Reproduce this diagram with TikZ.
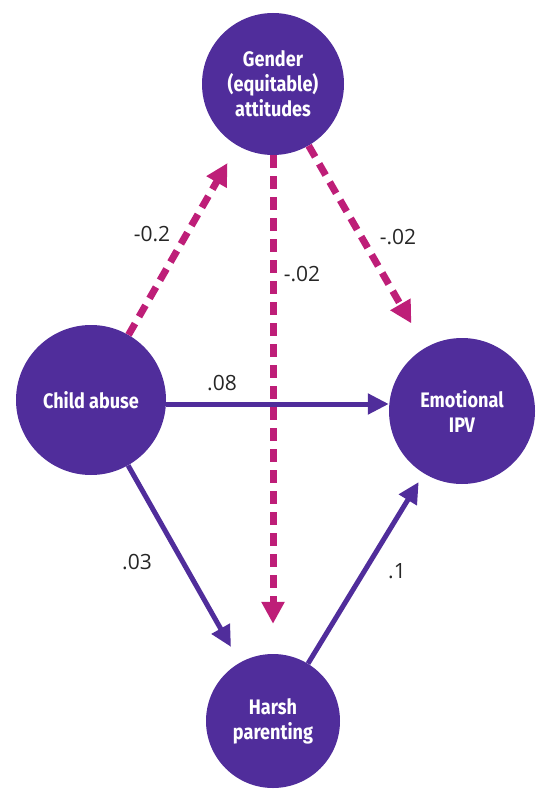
\documentclass[tikz,border=0pt]{standalone}
\usepackage{fontspec}
\setmainfont{Open Sans}
\newfontfamily\nodefont[FakeStretch=0.86]{Fira Sans}
\usetikzlibrary{arrows.meta}
\definecolor{nodepurple}{RGB}{80,45,155}
\definecolor{pathmagenta}{RGB}{190,30,120}
\tikzset{
  var/.style={circle, fill=nodepurple, minimum size=#1, inner sep=0pt,
    text=white, align=center, font=\nodefont\bfseries\fontsize{21}{25}\selectfont},
  solidpath/.style={draw=nodepurple, line width=5pt,
    -{Triangle[length=21pt,width=20pt]}},
  dashpath/.style={draw=pathmagenta, line width=7pt, dash pattern=on 13pt off 8pt,
    -{Triangle[length=22pt,width=22pt]}},
  coef/.style={font=\fontsize{21}{24}\selectfont, text=black!85, inner sep=0pt}
}
\begin{document}
\begin{tikzpicture}[x=1pt, y=-1pt]
  \useasboundingbox (0,0) rectangle (537,789);

  % variables
  \node[var=142pt] (gender) at (273,84) {Gender\\(equitable)\\attitudes};
  \node[var=150pt] (ca) at (91,400) {Child abuse};
  \node[var=146pt] (ipv) at (462,411) {Emotional\\IPV};
  \node[var=134pt] (harsh) at (273,721) {Harsh\\parenting};

  \coordinate (hline) at (0,404);

  % moderation paths (dashed)
  \draw[dashpath, shorten >=20pt] (ca) -- (gender);
  \draw[dashpath, shorten >=30pt] (gender.south) -- (harsh.north);
  \draw[dashpath, shorten >=28pt] (gender) -- (ipv);

  % direct and indirect paths
  \draw[solidpath] (ca.east |- hline) -- (ipv.west |- hline);
  \draw[solidpath, shorten >=18pt] (ca) -- (harsh);
  \draw[solidpath, shorten >=10pt] (harsh) -- (ipv);

  % coefficients
  \node[coef] (c1) at (152,234) {-0.2};
  \node[coef] (c2) at (302,274) {-.02};
  \node[coef] (c3) at (398,237) {-.02};
  \node[coef] (c4) at (222,383) {.08};
  \node[coef] (c5) at (137,562) {.03};
  \node[coef] (c6) at (397,571) {.1};
\end{tikzpicture}
\end{document}
